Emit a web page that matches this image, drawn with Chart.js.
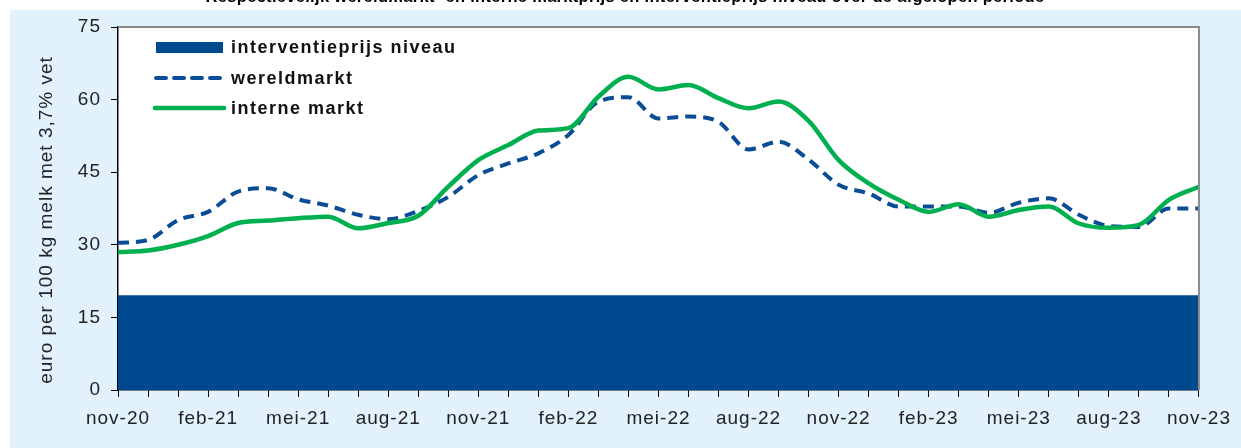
<!DOCTYPE html>
<html>
<head>
<meta charset="utf-8">
<script src="https://cdn.jsdelivr.net/npm/chart.js@4.4.1/dist/chart.umd.min.js"></script>
<style>
html,body{margin:0;padding:0;background:#fff;}
canvas{display:block;}
</style>
</head>
<body>
<canvas id="c" width="1241" height="448"></canvas>
<script>
// ---- data ----
const titleText = "Respectievelijk wereldmarkt- en interne marktprijs en interventieprijs niveau over de afgelopen periode";
const yAxisTitle = "euro per 100 kg melk met 3,7% vet";
const legendLabels = ["interventieprijs niveau", "wereldmarkt", "interne markt"];

const months = [
  "nov-20","dec-20","jan-21","feb-21","mrt-21","apr-21","mei-21","jun-21","jul-21","aug-21","sep-21","okt-21",
  "nov-21","dec-21","jan-22","feb-22","mrt-22","apr-22","mei-22","jun-22","jul-22","aug-22","sep-22","okt-22",
  "nov-22","dec-22","jan-23","feb-23","mrt-23","apr-23","mei-23","jun-23","jul-23","aug-23","sep-23","okt-23",
  "nov-23"
];

const interventieprijs = [
  19.6,19.6,19.6,19.6,19.6,19.6,19.6,19.6,19.6,19.6,19.6,19.6,
  19.6,19.6,19.6,19.6,19.6,19.6,19.6,19.6,19.6,19.6,19.6,19.6,
  19.6,19.6,19.6,19.6,19.6,19.6,19.6,19.6,19.6,19.6,19.6,19.6,
  19.6
];

const wereldmarkt = [
  30.4,31.0,35.1,36.8,41.0,41.7,39.4,38.1,36.2,35.3,37.0,39.9,
  44.4,46.8,48.9,52.7,59.6,60.5,56.1,56.5,55.4,49.7,51.3,47.6,
  42.4,40.6,37.9,37.9,37.9,36.6,38.7,39.6,36.2,33.9,33.7,37.5,
  37.5
];

const interneMarkt = [
  28.5,28.8,30.0,31.8,34.5,35.0,35.5,35.8,33.4,34.5,36.0,42.0,
  47.5,50.6,53.6,54.1,60.6,64.7,62.1,63.0,60.3,58.2,59.6,55.6,
  47.5,42.7,39.3,36.8,38.4,35.8,37.2,37.9,34.4,33.5,34.1,39.3,
  42.0
];

const yTicks = [0, 15, 30, 45, 60, 75];

// ---- styling ----
const FONT = '"Liberation Sans", Arial, sans-serif';
const BG = '#E1F2FC';
const AREA = '#00498F';
const WORLD = '#0B4C97';
const GREEN = '#00B050';

const deco = {
  id: 'deco',
  beforeUpdate(chart) { chart.ctx.letterSpacing = '1px'; },
  beforeDraw(chart) {
    const ctx = chart.ctx;
    ctx.letterSpacing = '1px';
    ctx.save();
    ctx.fillStyle = '#fff';
    ctx.fillRect(0, 0, chart.width, chart.height);
    ctx.fillStyle = BG;
    ctx.fillRect(10, 10, chart.width - 10, chart.height - 10);
    const a = chart.chartArea;
    ctx.fillStyle = '#fff';
    ctx.fillRect(a.left, a.top, a.right - a.left, a.bottom - a.top);
    // title (cut off at top of the picture)
    ctx.fillStyle = '#000';
    ctx.letterSpacing = '0.3px';
    ctx.font = 'bold 16.5px ' + FONT;
    ctx.textAlign = 'center';
    ctx.textBaseline = 'alphabetic';
    ctx.fillText(titleText, 625, 2);
    // y axis title
    ctx.letterSpacing = '1px';
    ctx.fillStyle = '#222';
    ctx.font = '19px ' + FONT;
    ctx.translate(47, 220);
    ctx.rotate(-Math.PI / 2);
    ctx.textBaseline = 'middle';
    ctx.fillText(yAxisTitle, 0, 0);
    ctx.restore();
  },
  afterDraw(chart) {
    const ctx = chart.ctx;
    const a = chart.chartArea;
    ctx.save();
    // top & right frame
    ctx.strokeStyle = '#8a8a8a';
    ctx.lineWidth = 2;
    ctx.beginPath();
    ctx.moveTo(a.left, a.top);
    ctx.lineTo(a.right, a.top);
    ctx.lineTo(a.right, a.bottom);
    ctx.stroke();
    // legend
    const ds = chart.data.datasets;
    const x0 = 155, x1 = 224, tx = 231;
    const ys = [47.5, 78, 108];
    ctx.fillStyle = ds[0].backgroundColor;
    ctx.fillRect(x0 + 1, ys[0] - 5.5, x1 - x0 - 2, 11);
    ctx.lineCap = 'round';
    ctx.strokeStyle = ds[1].borderColor;
    ctx.lineWidth = 4;
    ctx.setLineDash([10, 8]);
    ctx.beginPath(); ctx.moveTo(x0 + 1, ys[1]); ctx.lineTo(x1, ys[1]); ctx.stroke();
    ctx.setLineDash([]);
    ctx.strokeStyle = ds[2].borderColor;
    ctx.lineWidth = 4.5;
    ctx.beginPath(); ctx.moveTo(x0, ys[2]); ctx.lineTo(x1, ys[2]); ctx.stroke();
    ctx.fillStyle = '#111';
    ctx.letterSpacing = '1.5px';
    ctx.font = 'bold 18px ' + FONT;
    ctx.textAlign = 'left';
    ctx.textBaseline = 'middle';
    for (let i = 0; i < 3; i++) ctx.fillText(ds[i].label, tx, ys[i] + 1);
    ctx.restore();
  }
};

new Chart(document.getElementById('c'), {
  type: 'line',
  data: {
    labels: months,
    datasets: [
      {
        label: legendLabels[0], data: interventieprijs, fill: 'origin',
        backgroundColor: AREA, borderColor: AREA, borderWidth: 0,
        pointRadius: 0, tension: 0, order: 3
      },
      {
        label: legendLabels[1], data: wereldmarkt, fill: false,
        borderColor: WORLD, borderWidth: 4, borderDash: [11, 7], borderCapStyle: 'butt',
        pointRadius: 0, cubicInterpolationMode: 'monotone', order: 2
      },
      {
        label: legendLabels[2], data: interneMarkt, fill: false,
        borderColor: GREEN, borderWidth: 4.5,
        pointRadius: 0, cubicInterpolationMode: 'monotone', order: 1
      }
    ]
  },
  options: {
    responsive: false,
    animation: false,
    devicePixelRatio: 1,
    layout: { padding: { left: 0, top: 27, right: 40, bottom: 0 } },
    plugins: { legend: { display: false }, tooltip: { enabled: false } },
    scales: {
      x: {
        type: 'category',
        grid: { display: true, drawOnChartArea: false, drawTicks: true, tickLength: 7, color: '#000', lineWidth: 1 },
        border: { display: true, color: '#000', width: 1.5 },
        ticks: {
          autoSkip: false, maxRotation: 0, minRotation: 0, padding: 10,
          color: '#222', font: { family: FONT, size: 19 },
          callback: function (val, idx) { return idx % 3 === 0 ? this.getLabelForValue(val) : ''; }
        },
        afterFit: function (s) { s.height = 58; }
      },
      y: {
        min: yTicks[0], max: yTicks[yTicks.length - 1],
        afterBuildTicks: function (s) { s.ticks = yTicks.map(v => ({ value: v })); },
        grid: { display: true, drawOnChartArea: false, drawTicks: true, tickLength: 7, color: '#000', lineWidth: 1 },
        border: { display: true, color: '#000', width: 1.5 },
        ticks: { padding: 10, color: '#222', font: { family: FONT, size: 19 } },
        afterFit: function (s) { s.width = 118; }
      }
    }
  },
  plugins: [deco]
});
</script>
</body>
</html>
